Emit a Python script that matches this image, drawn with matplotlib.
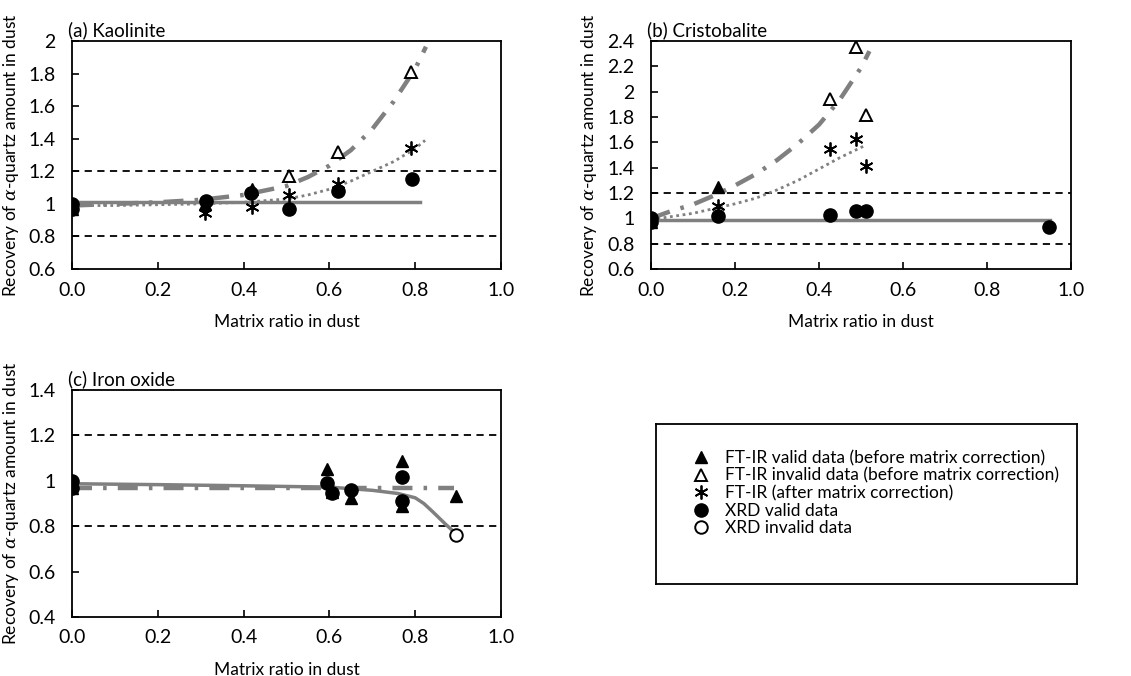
import matplotlib
matplotlib.use("Agg")
import matplotlib.pyplot as plt
from matplotlib.lines import Line2D

plt.rcParams['font.family'] = ['Lato', 'DejaVu Sans']
plt.rcParams['mathtext.fontset'] = 'dejavuserif'

GRAY = '#808080'

# ---- (a) Kaolinite ----
a_ftir_valid_x = [0, 0.31, 0.42]
a_ftir_valid_y = [0.97, 1.0, 1.09]
a_ftir_invalid_x = [0.505, 0.62, 0.79]
a_ftir_invalid_y = [1.17, 1.32, 1.81]
a_ftir_corr_x = [0, 0.31, 0.42, 0.505, 0.62, 0.79]
a_ftir_corr_y = [0.99, 0.945, 0.98, 1.055, 1.12, 1.345]
a_xrd_valid_x = [0, 0, 0.312, 0.418, 0.506, 0.62, 0.793]
a_xrd_valid_y = [1.0, 0.97, 1.02, 1.066, 0.968, 1.08, 1.154]
# trend lines
a_tr_ftir_x = [0, 0.1, 0.2, 0.3, 0.4, 0.5, 0.55, 0.6, 0.65, 0.7, 0.75, 0.8, 0.825]
a_tr_ftir_y = [0.99, 1.0, 1.01, 1.025, 1.055, 1.11, 1.165, 1.235, 1.33, 1.46, 1.63, 1.83, 1.965]
a_tr_corr_x = [0, 0.1, 0.2, 0.3, 0.4, 0.5, 0.55, 0.6, 0.65, 0.7, 0.75, 0.8, 0.823]
a_tr_corr_y = [0.99, 0.99, 0.995, 1.0, 1.01, 1.03, 1.055, 1.09, 1.14, 1.2, 1.26, 1.34, 1.39]
a_tr_xrd_x = [0, 0.81]
a_tr_xrd_y = [1.01, 1.01]

# ---- (b) Cristobalite ----
b_ftir_valid_x = [0, 0.159]
b_ftir_valid_y = [0.97, 1.25]
b_ftir_invalid_x = [0.425, 0.488, 0.513]
b_ftir_invalid_y = [1.94, 2.355, 1.82]
b_ftir_corr_x = [0, 0.159, 0.425, 0.488, 0.513]
b_ftir_corr_y = [0.99, 1.10, 1.546, 1.627, 1.41]
b_xrd_valid_x = [0, 0, 0.159, 0.425, 0.488, 0.513, 0.948]
b_xrd_valid_y = [1.0, 0.97, 1.015, 1.03, 1.062, 1.06, 0.93]
b_tr_ftir_x = [0, 0.05, 0.1, 0.15, 0.2, 0.25, 0.3, 0.35, 0.4, 0.45, 0.5, 0.52]
b_tr_ftir_y = [1.0, 1.06, 1.11, 1.18, 1.26, 1.35, 1.46, 1.59, 1.74, 1.94, 2.19, 2.32]
b_tr_corr_x = [0, 0.1, 0.2, 0.25, 0.3, 0.35, 0.4, 0.45, 0.5, 0.51]
b_tr_corr_y = [0.99, 1.04, 1.115, 1.16, 1.225, 1.3, 1.39, 1.48, 1.56, 1.575]
b_tr_xrd_x = [0, 0.95]
b_tr_xrd_y = [0.99, 0.99]

# ---- (c) Iron oxide ----
c_ftir_valid_x = [0, 0, 0.595, 0.607, 0.65, 0.77, 0.77, 0.895]
c_ftir_valid_y = [0.97, 0.98, 1.05, 0.95, 0.923, 1.089, 0.887, 0.934]
c_xrd_valid_x = [0, 0, 0.595, 0.607, 0.65, 0.77, 0.77]
c_xrd_valid_y = [1.0, 0.97, 0.99, 0.945, 0.96, 1.016, 0.913]
c_xrd_invalid_x = [0.895]
c_xrd_invalid_y = [0.759]
c_tr_ftir_x = [0, 0.89]
c_tr_ftir_y = [0.967, 0.967]
c_tr_xrd_x = [0, 0.2, 0.4, 0.6, 0.7, 0.76, 0.8, 0.82, 0.84, 0.87, 0.893]
c_tr_xrd_y = [0.987, 0.983, 0.978, 0.972, 0.958, 0.944, 0.925, 0.9, 0.865, 0.81, 0.77]

x_ticks = [0.0, 0.2, 0.4, 0.6, 0.8, 1.0]

MS = dict(
    tri=dict(marker='^', color='black', ms=8.5, ls='none'),
    otri=dict(marker='^', mfc='white', mec='black', mew=1.4, ms=8.5, ls='none'),
    ast=dict(marker=(6, 2, 0), color='black', mew=1.3, ms=10, ls='none'),
    dot=dict(marker='o', color='black', ms=9.5, ls='none'),
    odot=dict(marker='o', mfc='white', mec='black', mew=1.4, ms=9, ls='none'),
)

DASHDOT = dict(color=GRAY, lw=3.2, dashes=(4.5, 2.5, 0.8, 2.5))
DOTTED = dict(color=GRAY, lw=2, dashes=(1, 1.3))
SOLID = dict(color=GRAY, lw=2.5)


def setup(ax, title, ymin, ymax, ystep, ylabels, ylab_x):
    ax.set_xlim(0, 1)
    ax.set_ylim(ymin, ymax)
    ax.set_xticks(x_ticks)
    ax.set_xticklabels(['%.1f' % t for t in x_ticks])
    yt = [ymin + i * ystep for i in range(len(ylabels))]
    ax.set_yticks(yt)
    ax.set_yticklabels(ylabels)
    ax.tick_params(direction='in', length=5, width=1.2, labelsize=14)
    ax.tick_params(axis='x', pad=9)
    ax.tick_params(axis='y', pad=12)
    for s in ax.spines.values():
        s.set_linewidth(1.3)
    ax.axhline(0.8, color='black', lw=1.3, dashes=(4, 3), zorder=1)
    ax.axhline(1.2, color='black', lw=1.3, dashes=(4, 3), zorder=1)
    ax.set_xlabel('Matrix ratio in dust', fontsize=12.5, labelpad=11)
    ax.set_ylabel(r'Recovery of $\alpha$-quartz amount in dust', fontsize=12.5)
    ax.yaxis.set_label_coords(ylab_x, 0.5)
    ax.text(-0.01, 1.01, title, transform=ax.transAxes, fontsize=13.5, ha='left', va='bottom')


fig = plt.figure(figsize=(11.31, 6.76), dpi=100)

ax_a = fig.add_axes([0.0637, 0.602, 0.3793, 0.3373])
ax_b = fig.add_axes([0.5756, 0.602, 0.3714, 0.3373])
ax_c = fig.add_axes([0.0637, 0.0873, 0.3793, 0.3358])

# (a)
setup(ax_a, '(a) Kaolinite', 0.6, 2.0, 0.2, ['0.6', '0.8', '1', '1.2', '1.4', '1.6', '1.8', '2'], -0.118)
ax_a.plot(a_tr_xrd_x, a_tr_xrd_y, **SOLID, zorder=2)
ax_a.plot(a_tr_corr_x, a_tr_corr_y, **DOTTED, zorder=2)
ax_a.plot(a_tr_ftir_x, a_tr_ftir_y, **DASHDOT, zorder=2)
ax_a.plot(a_ftir_valid_x, a_ftir_valid_y, **MS['tri'], zorder=3)
ax_a.plot(a_ftir_invalid_x, a_ftir_invalid_y, **MS['otri'], zorder=3)
ax_a.plot(a_ftir_corr_x, a_ftir_corr_y, **MS['ast'], zorder=3)
ax_a.plot(a_xrd_valid_x, a_xrd_valid_y, **MS['dot'], zorder=4)

# (b)
setup(ax_b, '(b) Cristobalite', 0.6, 2.4, 0.2,
      ['0.6', '0.8', '1', '1.2', '1.4', '1.6', '1.8', '2', '2.2', '2.4'], -0.124)
ax_b.plot(b_tr_xrd_x, b_tr_xrd_y, **SOLID, zorder=2)
ax_b.plot(b_tr_corr_x, b_tr_corr_y, **DOTTED, zorder=2)
ax_b.plot(b_tr_ftir_x, b_tr_ftir_y, **DASHDOT, zorder=2)
ax_b.plot(b_ftir_valid_x, b_ftir_valid_y, **MS['tri'], zorder=3)
ax_b.plot(b_ftir_invalid_x, b_ftir_invalid_y, **MS['otri'], zorder=3)
ax_b.plot(b_ftir_corr_x, b_ftir_corr_y, **MS['ast'], zorder=3)
ax_b.plot(b_xrd_valid_x, b_xrd_valid_y, **MS['dot'], zorder=4)

# (c)
setup(ax_c, '(c) Iron oxide', 0.4, 1.4, 0.2, ['0.4', '0.6', '0.8', '1', '1.2', '1.4'], -0.118)
ax_c.plot(c_tr_ftir_x, c_tr_ftir_y, **DASHDOT, zorder=2)
ax_c.plot(c_tr_xrd_x, c_tr_xrd_y, **SOLID, zorder=2)
ax_c.plot(c_ftir_valid_x, c_ftir_valid_y, **MS['tri'], zorder=3)
ax_c.plot(c_xrd_valid_x, c_xrd_valid_y, **MS['dot'], zorder=4)
ax_c.plot(c_xrd_invalid_x, c_xrd_invalid_y, **MS['odot'], zorder=4)

# legend box
ax_l = fig.add_axes([0.58, 0.136, 0.3722, 0.2367])
ax_l.set_xticks([])
ax_l.set_yticks([])
for s in ax_l.spines.values():
    s.set_linewidth(1.3)
handles = [
    Line2D([], [], **MS['tri']),
    Line2D([], [], **MS['otri']),
    Line2D([], [], **MS['ast']),
    Line2D([], [], **MS['dot']),
    Line2D([], [], **MS['odot']),
]
labels = [
    'FT-IR valid data (before matrix correction)',
    'FT-IR invalid data (before matrix correction)',
    'FT-IR (after matrix correction)',
    'XRD valid data',
    'XRD invalid data',
]
ax_l.legend(handles, labels, loc='upper left', bbox_to_anchor=(0.07, 0.88), frameon=False,
            fontsize=12.5, handlelength=1.0, handletextpad=0.9, labelspacing=0.08,
            borderaxespad=0)

fig.savefig('out.png', dpi=100)
